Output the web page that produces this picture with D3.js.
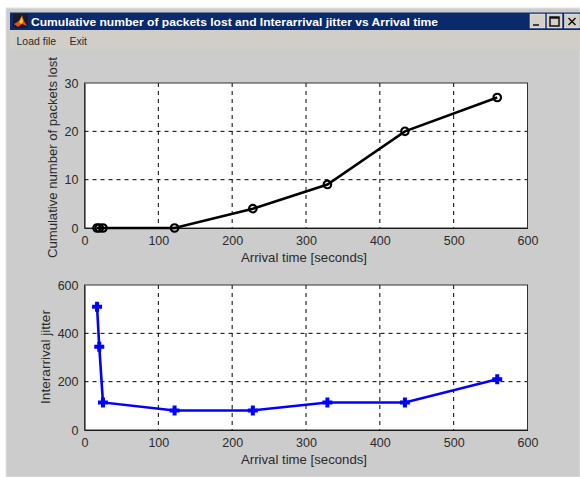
<!DOCTYPE html>
<html>
<head>
<meta charset="utf-8">
<script src="https://cdn.jsdelivr.net/npm/d3@7"></script>
<style>
html,body{margin:0;padding:0;background:#fff;}
svg{display:block;}
text{font-family:"Liberation Sans",Arial,sans-serif;fill:#2a2a2a;}
</style>
</head>
<body>
<div id="chart"></div>
<script>
//data
const arrivalTime = [17, 20, 25, 122, 228, 329, 434, 559];
const packetsLost = [0, 0, 0, 0, 4, 9, 20, 27];
const jitter = [510, 345, 114, 81, 81, 114, 114, 210];
const xTicks = [0, 100, 200, 300, 400, 500, 600];
const lostTicks = [0, 10, 20, 30];
const jitterTicks = [0, 200, 400, 600];
const windowTitle = "Cumulative number of packets lost and Interarrival jitter vs Arrival time";
const menuItems = ["Load file", "Exit"];

//sizing
let width = 580;
let height = 477;
let plotLeft = 84.5;
let plotRight = 527.5;

let svg = d3.select("#chart")
	.append("svg")
	.attr("width", width)
	.attr("height", height);

//window frame
svg.append("rect")
	.attr("x", 6).attr("y", 8)
	.attr("width", width - 6).attr("height", height - 8)
	.attr("fill", "#cccccc")
	.attr("stroke", "#e4e4e4");

//menu band
svg.append("rect")
	.attr("x", 10).attr("y", 30)
	.attr("width", width - 10).attr("height", 20)
	.attr("fill", "#d1cec8");

//title bar
svg.append("rect")
	.attr("x", 10).attr("y", 12.5)
	.attr("width", width - 10).attr("height", 17.5)
	.attr("fill", "#0a2a6b");

//matlab icon
let icon = svg.append("g").attr("transform", "translate(13,14)");
icon.append("rect").attr("width", 15).attr("height", 14).attr("fill", "#1a1a2a");
icon.append("path").attr("d", "M1 10L6 7L9 1L11 7L14 12L9 10L5 13Z").attr("fill", "#e8501a");
icon.append("path").attr("d", "M6 8L9 3L10 8L8 10Z").attr("fill", "#f5d020");

svg.append("text")
	.attr("x", 31).attr("y", 25.5)
	.attr("font-size", 11.5)
	.attr("font-weight", "bold")
	.style("fill", "#fff")
	.attr("textLength", 407)
	.attr("lengthAdjust", "spacingAndGlyphs")
	.text(windowTitle);

//window buttons
const buttons = [
	{x: 530, path: "M3 11H9"},
	{x: 547, path: "M3 3H12V12H3ZM3 4H12"},
	{x: 564.5, path: "M4 4L11 11M11 4L4 11"}
];
buttons.forEach((b)=>{
	let g = svg.append("g").attr("transform", `translate(${b.x},14)`);
	g.append("rect").attr("width", 15).attr("height", 14).attr("fill", "#d4d0c8").attr("stroke", "#f4f4f4").attr("stroke-width", 0.5);
	g.append("path").attr("d", b.path).attr("fill", "none").attr("stroke", "#111").attr("stroke-width", 1.5);
});

//menu
svg.append("text").attr("x", 16.5).attr("y", 45).attr("font-size", 10.5).text(menuItems[0]);
svg.append("text").attr("x", 69.5).attr("y", 45).attr("font-size", 10.5).text(menuItems[1]);

//scales
const xScale = d3.scaleLinear().domain([0, 600]).range([plotLeft, plotRight]);
const yLost = d3.scaleLinear().domain([0, 30]).range([228, 83]);
const yJitter = d3.scaleLinear().domain([0, 600]).range([430, 285]);

function drawPlot(yScale, yTicks, values, color, yLabel, marker){

	let top = yScale.range()[1];
	let bottom = yScale.range()[0];

	svg.append("rect")
		.attr("x", plotLeft).attr("y", top)
		.attr("width", plotRight - plotLeft).attr("height", bottom - top)
		.attr("fill", "#fff");

	//grid
	svg.append("g").selectAll("line")
		.data(xTicks.slice(1, -1))
		.enter().append("line")
		.attr("x1", (d)=>{return xScale(d);})
		.attr("x2", (d)=>{return xScale(d);})
		.attr("y1", top).attr("y2", bottom)
		.attr("stroke", "#000")
		.attr("stroke-dasharray", "4,4");

	svg.append("g").selectAll("line")
		.data(yTicks.slice(1, -1))
		.enter().append("line")
		.attr("x1", plotLeft).attr("x2", plotRight)
		.attr("y1", (d)=>{return yScale(d);})
		.attr("y2", (d)=>{return yScale(d);})
		.attr("stroke", "#000")
		.attr("stroke-dasharray", "4,4");

	//axes
	const xAxis = d3.axisBottom(xScale).tickValues(xTicks).tickSize(0).tickPadding(8);
	const yAxis = d3.axisLeft(yScale).tickValues(yTicks).tickSize(0).tickPadding(6);

	svg.append("g")
		.attr("transform", `translate(0,${bottom})`)
		.call(xAxis)
		.call((g)=>{g.selectAll("text").attr("font-size", 12.5).attr("font-family", null);});

	svg.append("g")
		.attr("transform", `translate(${plotLeft},0)`)
		.call(yAxis)
		.call((g)=>{g.selectAll("text").attr("font-size", 12.5).attr("font-family", null);});

	//box
	svg.append("rect")
		.attr("x", plotLeft).attr("y", top)
		.attr("width", plotRight - plotLeft).attr("height", bottom - top)
		.attr("fill", "none")
		.attr("stroke", "#333");

	//line
	let line = d3.line()
		.x((d, i)=>{return xScale(arrivalTime[i]);})
		.y((d)=>{return yScale(d);});

	svg.append("path")
		.datum(values)
		.attr("d", line)
		.attr("fill", "none")
		.attr("stroke", color)
		.attr("stroke-width", 2.6);

	//markers
	let points = svg.append("g").selectAll("g")
		.data(values)
		.enter().append("g")
		.attr("transform", (d, i)=>{return `translate(${xScale(arrivalTime[i])},${yScale(d)})`;});

	if (marker == "circle") {
		points.append("circle")
			.attr("r", 3.8)
			.attr("fill", "none")
			.attr("stroke", color)
			.attr("stroke-width", 2.1);
	} else {
		points.append("path")
			.attr("d", "M-5 0H5M0 -5V5")
			.attr("stroke", color)
			.attr("stroke-width", 4);
	}

	//labels
	svg.append("text")
		.attr("x", (plotLeft + plotRight) / 2 - 2)
		.attr("y", bottom + 34)
		.attr("text-anchor", "middle")
		.attr("font-size", 13)
		.attr("textLength", 126)
		.attr("lengthAdjust", "spacingAndGlyphs")
		.text("Arrival time [seconds]");

	svg.append("text")
		.attr("transform", `translate(${yLabel.x},${yLabel.y}) rotate(-90)`)
		.attr("text-anchor", "middle")
		.attr("font-size", 13)
		.attr("textLength", yLabel.len)
		.attr("lengthAdjust", "spacingAndGlyphs")
		.text(yLabel.text);
}

drawPlot(yLost, lostTicks, packetsLost, "#000", {x: 57, y: 157.5, len: 201, text: "Cumulative number of packets lost"}, "circle");
drawPlot(yJitter, jitterTicks, jitter, "#0000ff", {x: 50, y: 357, len: 94, text: "Interarrival jitter"}, "plus");
</script>
</body>
</html>
